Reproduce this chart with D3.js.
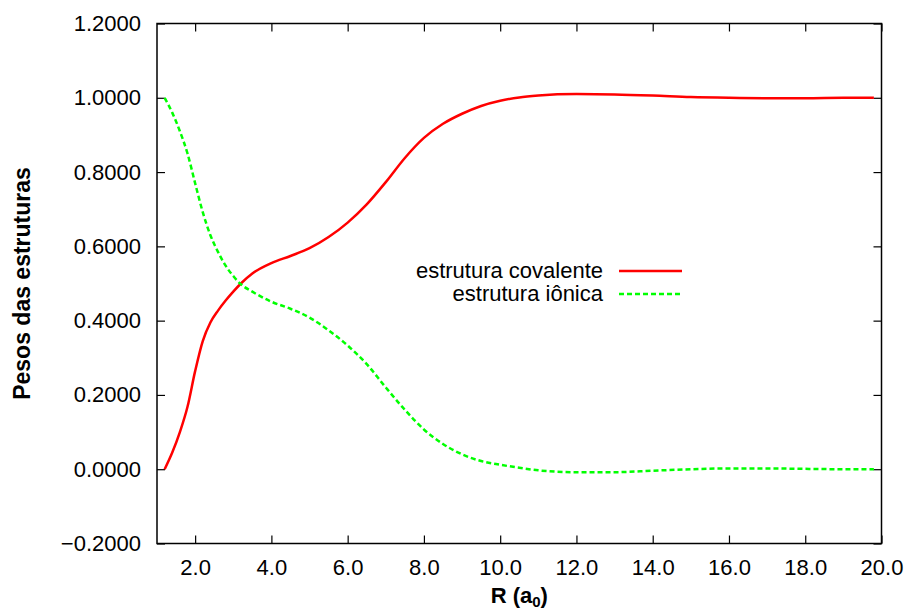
<!DOCTYPE html>
<html>
<head>
<meta charset="utf-8">
<script src="https://cdn.jsdelivr.net/npm/d3@7"></script>
<style>
  body { margin: 0; background: #fff; }
  svg text { font-family: "Liberation Sans", Arial, sans-serif; fill: #000; }
</style>
</head>
<body>
<div id="chart"></div>
<script>
// R values (a0) and weights
var rValues = [1.2, 1.4, 1.6, 1.8, 2.0, 2.2, 2.4, 2.6, 2.8, 3.0, 3.2, 3.5, 4.0, 4.5, 5.0, 5.5, 6.0, 6.5,
               7.0, 7.5, 8.0, 8.5, 9.0, 9.5, 10.0, 10.5, 11.0, 12.0, 13.0, 14.0, 15.0, 16.0, 17.0, 18.0, 19.0, 19.8];
var covalente = [0.000, 0.045, 0.100, 0.168, 0.264, 0.345, 0.395, 0.427, 0.454, 0.478, 0.500, 0.527, 0.555, 0.574, 0.595, 0.625, 0.664, 0.713,
                 0.773, 0.838, 0.892, 0.930, 0.957, 0.978, 0.992, 1.001, 1.006, 1.010, 1.009, 1.006, 1.002, 1.000, 0.999, 0.999, 1.000, 1.000];
var ionica = [1.000, 0.960, 0.910, 0.850, 0.770, 0.692, 0.630, 0.585, 0.548, 0.520, 0.498, 0.478, 0.451, 0.432, 0.408, 0.374, 0.333, 0.283,
              0.220, 0.160, 0.107, 0.068, 0.040, 0.022, 0.012, 0.004, -0.003, -0.008, -0.008, -0.004, 0.000, 0.002, 0.002, 0.001, 0.000, 0.000];
var xTicks = [2, 4, 6, 8, 10, 12, 14, 16, 18, 20];
var yTicks = [-0.2, 0, 0.2, 0.4, 0.6, 0.8, 1.0, 1.2];
var seriesNames = ["estrutura covalente", "estrutura iônica"];

var width = 905, height = 611;
var margin = {left: 157, right: 905 - 881.5, top: 23.5, bottom: 611 - 543.5};

var svg = d3.select("#chart").append("svg")
  .attr("width", width)
  .attr("height", height);

var x = d3.scaleLinear().domain([1, 20]).range([margin.left, width - margin.right]);
var y = d3.scaleLinear().domain([-0.2, 1.2]).range([height - margin.bottom, margin.top]);

var fmtY = function(d) { return d3.format(".4f")(d).replace("-", "\u2212"); };

// axes: gnuplot-style inward ticks, mirrored
var tickLen = 8;
var fs = 22;
svg.append("g")
  .attr("transform", "translate(0," + y.range()[0] + ")")
  .call(d3.axisBottom(x).tickValues(xTicks).tickSize(-tickLen).tickPadding(tickLen + 8).tickFormat(d3.format(".1f")))
  .call(function(g) { g.select(".domain").remove(); });
svg.append("g")
  .attr("transform", "translate(0," + y.range()[1] + ")")
  .call(d3.axisTop(x).tickValues(xTicks).tickSize(-tickLen).tickFormat(""))
  .call(function(g) { g.select(".domain").remove(); });
svg.append("g")
  .attr("transform", "translate(" + x.range()[0] + ",0)")
  .call(d3.axisLeft(y).tickValues(yTicks).tickSize(-tickLen).tickPadding(tickLen + 8).tickFormat(fmtY))
  .call(function(g) { g.select(".domain").remove(); });
svg.append("g")
  .attr("transform", "translate(" + x.range()[1] + ",0)")
  .call(d3.axisRight(y).tickValues(yTicks).tickSize(-tickLen).tickFormat(""))
  .call(function(g) { g.select(".domain").remove(); });

svg.selectAll(".tick line").attr("stroke", "#000").attr("stroke-width", 1.2);
svg.selectAll(".tick text").attr("font-size", fs).attr("font-family", "Liberation Sans, Arial, sans-serif");

// frame
svg.append("rect")
  .attr("x", x.range()[0]).attr("y", y.range()[1])
  .attr("width", x.range()[1] - x.range()[0])
  .attr("height", y.range()[0] - y.range()[1])
  .attr("fill", "none").attr("stroke", "#000").attr("stroke-width", 1.5);

// curves
var pts = function(vals) { return rValues.map(function(r, i) { return [r, vals[i]]; }); };
var line = d3.line().x(function(d) { return x(d[0]); }).y(function(d) { return y(d[1]); }).curve(d3.curveMonotoneX);

svg.append("path").datum(pts(covalente))
  .attr("d", line).attr("fill", "none").attr("stroke", "#ff0000").attr("stroke-width", 2.5);
svg.append("path").datum(pts(ionica))
  .attr("d", line).attr("fill", "none").attr("stroke", "#00ff00").attr("stroke-width", 2.5)
  .attr("stroke-dasharray", "5,3");

// legend
var legend = svg.append("g").attr("transform", "translate(603,0)");
legend.append("text").attr("x", 0).attr("y", 278).attr("text-anchor", "end").attr("font-size", fs).text(seriesNames[0]);
legend.append("text").attr("x", 0).attr("y", 301).attr("text-anchor", "end").attr("font-size", fs).text(seriesNames[1]);
legend.append("line").attr("x1", 16).attr("x2", 79).attr("y1", 271).attr("y2", 271)
  .attr("stroke", "#ff0000").attr("stroke-width", 2.5);
legend.append("line").attr("x1", 16).attr("x2", 79).attr("y1", 294).attr("y2", 294)
  .attr("stroke", "#00ff00").attr("stroke-width", 2.5).attr("stroke-dasharray", "5,3");

// axis titles
var xt = svg.append("text")
  .attr("x", (x.range()[0] + x.range()[1]) / 2).attr("y", 603)
  .attr("text-anchor", "middle").attr("font-size", fs).attr("font-weight", "bold");
xt.append("tspan").text("R (a");
xt.append("tspan").attr("dy", 4).attr("font-size", 15).text("0");
xt.append("tspan").attr("dy", -4).text(")");

svg.append("text")
  .attr("transform", "translate(30," + ((y.range()[0] + y.range()[1]) / 2) + ") rotate(-90)")
  .attr("text-anchor", "middle").attr("font-size", 23).attr("font-weight", "bold")
  .text("Pesos das estruturas");
</script>
</body>
</html>
